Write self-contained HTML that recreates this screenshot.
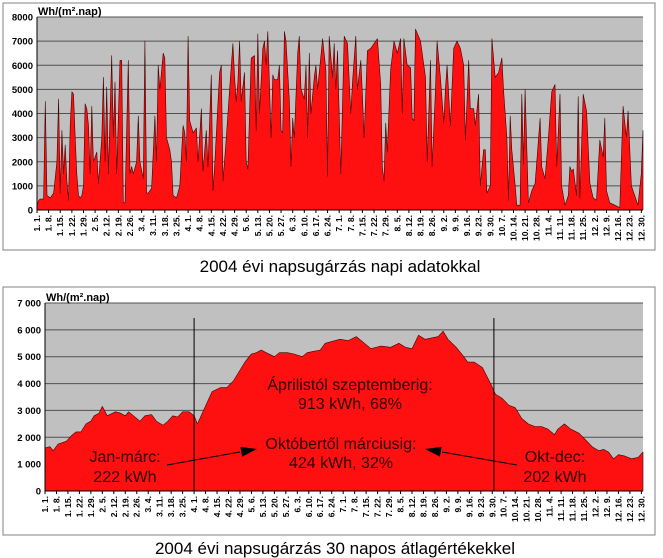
<!DOCTYPE html>
<html><head><meta charset="utf-8"><style>
html,body{margin:0;padding:0;background:#fff}
svg{display:block;font-family:"Liberation Sans",Arial,sans-serif}
</style></head><body>
<svg id="svg" width="663" height="558" viewBox="0 0 663 558">
<rect x="3" y="3" width="652" height="247" fill="#fff" stroke="#808080"/>
<rect x="3" y="287" width="652" height="248" fill="#fff" stroke="#808080"/>
<g id="top"></g>
<g id="bot"></g>
<text x="340" y="272" font-size="17" text-anchor="middle" fill="#000">2004 évi napsugárzás napi adatokkal</text>
<text x="335" y="554" font-size="17" text-anchor="middle" fill="#000">2004 évi napsugárzás 30 napos átlagértékekkel</text>
</svg>
<script>
const NS="http://www.w3.org/2000/svg";
const tickLabels=["1. 1.","1. 8.","1. 15.","1. 22.","1. 29.","2. 5.","2. 12.","2. 19.","2. 26.","3. 4.","3. 11.","3. 18.","3. 25.","4. 1.","4. 8.","4. 15.","4. 22.","4. 29.","5. 6.","5. 13.","5. 20.","5. 27.","6. 3.","6. 10.","6. 17.","6. 24.","7. 1.","7. 8.","7. 15.","7. 22.","7. 29.","8. 5.","8. 12.","8. 19.","8. 26.","9. 2.","9. 9.","9. 16.","9. 23.","9. 30.","10. 7.","10. 14.","10. 21.","10. 28.","11. 4.","11. 11.","11. 18.","11. 25.","12. 2.","12. 9.","12. 16.","12. 23.","12. 30."];
const dailyDays=[0,1,2,4,5,6,8,10,12,13,14,15,16,17,18,19,20,21,22,23,24,25,26,27,28,29,30,31,32,33,34,36,37,39,40,41,42,43,45,46,47,48,50,51,52,53,55,56,57,58,60,61,62,64,65,66,67,69,71,72,73,74,76,77,78,80,81,82,84,86,88,89,90,91,92,94,96,97,99,100,102,103,105,106,107,110,111,112,114,116,118,119,120,121,122,123,125,126,127,129,131,132,133,134,136,137,138,139,141,142,143,145,146,147,148,149,150,152,153,154,155,157,158,159,161,162,163,164,165,167,168,169,172,174,175,176,178,179,180,181,183,185,187,189,190,192,193,195,196,197,199,201,203,205,207,208,209,210,211,213,215,217,219,220,221,223,225,226,227,228,231,234,235,237,238,240,241,243,245,246,247,249,251,253,255,257,258,260,261,263,264,266,267,269,270,271,273,274,276,278,280,281,283,284,285,286,288,289,291,292,293,294,296,298,300,303,304,306,308,310,312,313,315,316,318,320,321,322,323,325,326,327,329,331,333,335,337,339,341,342,343,345,348,351,353,355,356,358,360,362,364,365];
const dailyValues=[200,400,450,450,4500,600,500,700,2000,4600,700,3300,1500,2700,1200,400,3500,4900,4800,3000,1500,600,500,600,1000,4400,4200,3500,1500,4300,2000,2400,1100,3000,5500,2000,5100,1500,6400,3000,5300,1500,6200,6200,300,300,6200,1500,1800,1500,2000,3900,2000,1300,7000,700,700,900,3900,2000,6000,5000,6500,6300,3000,2500,2000,600,500,1000,3500,3200,2000,7200,3700,3200,3400,2000,4200,1600,3300,1800,5600,800,1800,5700,6000,1200,3000,5000,6900,5500,4500,5300,7000,4500,5700,2000,1700,6300,6400,3300,7300,4000,6700,7000,6000,7400,3000,5600,5400,5400,6000,3300,3200,7400,7000,4500,1800,3800,3000,6500,7200,5000,4600,6000,3000,6500,4000,5500,6000,5000,7100,5800,1400,7200,5500,6900,5000,6600,1500,7200,6900,4000,5300,7200,5000,6200,4800,3000,6600,6700,6900,7100,5200,1800,1200,3600,2400,5800,7000,6500,7100,4000,7100,6000,5900,3800,3700,7500,7000,5500,2000,6200,1800,5000,7000,5500,3600,5000,6000,3500,6700,7000,6700,6000,2900,6200,4200,4200,3500,4800,1000,2500,2500,700,1000,7100,5500,5700,6300,5000,3000,400,3900,2500,1000,200,200,4800,1900,5000,300,800,1100,3800,1800,1300,3000,4900,5200,1800,4800,1000,200,600,1800,1600,1700,600,4700,500,4800,4100,1100,500,400,2900,2200,3800,800,300,200,100,4300,3000,4100,1000,600,200,1500,3300];
const avgDays=[0,3,5,8,13,16,19,22,25,28,30,33,35,38,43,46,49,51,54,58,61,65,68,72,75,78,81,84,88,91,93,96,99,102,107,111,115,119,122,126,129,132,135,140,143,148,152,157,160,164,168,171,174,180,185,190,195,199,205,211,216,220,224,228,232,236,240,243,246,251,255,258,262,267,272,275,279,283,287,291,295,299,303,307,311,313,317,321,326,330,334,338,341,344,347,350,354,358,362,365];
const avgValues=[1600,1650,1500,1750,1850,2050,2200,2200,2500,2600,2800,2900,3150,2800,2950,2900,2800,2950,2800,2600,2800,2850,2600,2450,2600,2800,2750,2950,2950,2800,2500,2900,3300,3700,3850,3850,4100,4500,4800,5100,5150,5250,5150,5000,5150,5150,5100,5000,5150,5200,5250,5500,5550,5650,5600,5750,5500,5300,5400,5350,5500,5350,5300,5800,5650,5700,5750,5950,5650,5350,5050,4800,4800,4600,4000,3600,3450,3200,3100,2700,2500,2400,2400,2300,2100,2300,2500,2300,2150,1900,1650,1500,1550,1450,1200,1350,1300,1200,1250,1450];
const topTicks=[0,1000,2000,3000,4000,5000,6000,7000,8000];
const botTicks=[0,1000,2000,3000,4000,5000,6000,7000];
const botTickText=["0","1 000","2 000","3 000","4 000","5 000","6 000","7 000"];

function el(tag,attrs,parent,text){const e=document.createElementNS(NS,tag);for(const k in attrs)e.setAttribute(k,attrs[k]);if(text!==undefined)e.textContent=text;parent.appendChild(e);return e;}

function chart(g,cfg){
  const {x0,x1,yTop,yBot,max,ticks,tickText,days,vals,name}=cfg;
  const X=d=>x0+(x1-x0)*d/365, Y=v=>yBot-(yBot-yTop)*v/max;
  const bg=el('rect',{x:x0,y:yTop,width:x1-x0,height:yBot-yTop,fill:'#c0c0c0'},g);
  
  
  ticks.forEach((t,i)=>{
    if(t>0){const l=el('line',{x1:x0,x2:x1,y1:Y(t),y2:Y(t),stroke:'#505050','stroke-width':1},g);
    
    }
    const tx=el('text',{x:x0-4,y:Y(t)+3.5,'font-size':9.5,'font-weight':'bold','text-anchor':'end',fill:'#000'},g,tickText[i]);
    
    
  });
  let d='M'+X(days[0])+','+Y(0);
  days.forEach((dd,i)=>{d+='L'+X(dd).toFixed(1)+','+Y(vals[i]).toFixed(1);});
  d+='L'+X(days[days.length-1])+','+Y(0)+'Z';
  const area=el('path',{d:d,fill:'#ff1010',stroke:'#400000','stroke-width':0.6,'stroke-linejoin':'round'},g);
  
  
  const ax=el('path',{d:`M${x0},${yTop}V${yBot}H${x1}`,fill:'none',stroke:'#000','stroke-width':1},g);
  
  
  tickLabels.forEach((lb,i)=>{
    const x=X(i*7);
    const tk=el('line',{x1:x,x2:x,y1:yBot,y2:yBot+3,stroke:'#000'},g);
    
    
    const t=el('text',{x:0,y:0,'font-size':8.5,'font-weight':'bold','text-anchor':'end',transform:`translate(${x+3},${yBot+5}) rotate(-90)`,fill:'#000'},g,lb);
    
    
  });
  const u=el('text',{x:x0+1,y:yTop-2,'font-size':11,'font-weight':'bold',fill:'#000'},g,'Wh/(m².nap)');
  
  
  return {X,Y};
}
chart(document.getElementById('top'),{x0:37,x1:643,yTop:17,yBot:210,max:8000,ticks:topTicks,tickText:topTicks.map(String),days:dailyDays,vals:dailyValues,name:'daily-radiation-area'});
const b=document.getElementById('bot');
const s=chart(b,{x0:45,x1:643,yTop:303,yBot:491,max:7000,ticks:botTicks,tickText:botTickText,days:avgDays,vals:avgValues,name:'average-radiation-area'});
[91,274].forEach(d=>{const l=el('line',{x1:s.X(d),x2:s.X(d),y1:318,y2:491,stroke:'#000','stroke-width':1},b);

});
const labels=[[350,390,'Áprilistól szeptemberig:'],[350,409,'913 kWh, 68%'],[341,449,'Októbertől márciusig:'],[341,468,'424 kWh, 32%'],[125,462,'Jan-márc:'],[125,482,'222 kWh'],[555,462,'Okt-dec:'],[555,482,'202 kWh']];
labels.forEach(a=>{const t=el('text',{x:a[0],y:a[1],'font-size':16,'text-anchor':'middle',fill:'#2a0000'},b,a[2]);

});
[[167,465,240,452,257,449],[517,465,442,452,425,449]].forEach(a=>{
  const l=el('line',{x1:a[0],y1:a[1],x2:a[2],y2:a[3],stroke:'#000','stroke-width':1},b);
  
  
  const dx=a[4]-a[0],dy=a[5]-a[1],L=Math.hypot(dx,dy),ux=dx/L,uy=dy/L;
  const bx=a[4]-ux*16,by=a[5]-uy*16;
  const p=el('polygon',{points:`${a[4]},${a[5]} ${bx-uy*5},${by+ux*5} ${bx+uy*5},${by-ux*5}`,fill:'#000'},b);
  
  
});
</script>
</body></html>
